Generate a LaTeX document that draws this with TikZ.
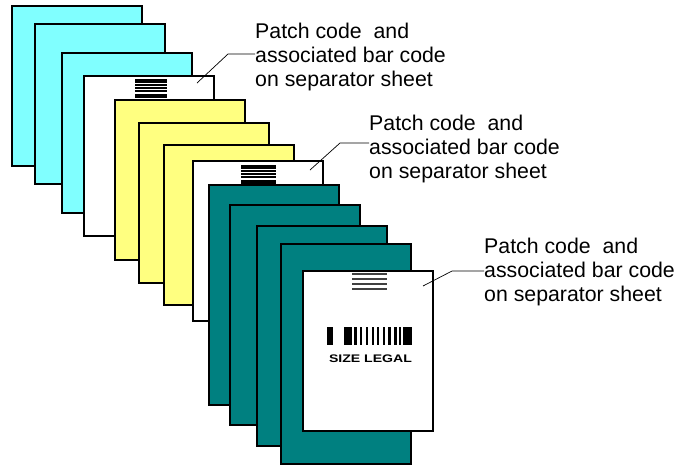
\documentclass[tikz,border=0pt]{standalone}
\usepackage{fontspec}
\setmainfont{Liberation Sans}
\usepackage{graphicx}
\usetikzlibrary{calc}

\definecolor{cyanpage}{HTML}{80FFFF}
\definecolor{yellowpage}{HTML}{FFFF80}
\definecolor{tealpage}{HTML}{008080}

% stripes of a patch code, #1 = top left corner, #2 = width
\newcommand{\patchbars}[2]{%
  \begin{scope}[shift={(#1)}]
    \fill (0,0) rectangle (#2,3.5);
    \fill (0,5.3) rectangle (#2,6.6);
    \fill (0,8.3) rectangle (#2,9.6);
    \fill (0,11.3) rectangle (#2,12.6);
    \fill (0,14.5) rectangle (#2,19);
  \end{scope}}

\begin{document}
\begin{tikzpicture}[x=1pt, y=-1pt,
    sheet/.style={draw=black, line width=1.5pt, anchor=north west,
      minimum width=130pt, minimum height=160pt, inner sep=0pt, outer sep=0pt},
    legal/.style={sheet, minimum height=220pt},
    leader/.style={line width=0.7pt},
    note/.style={anchor=base west, align=left, inner sep=0pt,
      font=\fontsize{21.3}{24}\selectfont}]
            \useasboundingbox (0,0) rectangle (676,467);

            % First batch
            \node[sheet, fill=cyanpage] (s1) at (12,6) {};
            \node[sheet, fill=cyanpage] (s2) at (35,24) {};
            \node[sheet, fill=cyanpage] (s3) at (62,53) {};
            % Separator
            \node[sheet, fill=white] (s4) at (84,76) {};
            \coordinate (p4) at ($(s4.north west)+(51,3)$);
            \patchbars{p4}{32}

            % Second batch
            \node[sheet, fill=yellowpage] (s5) at (115,100) {};
            \node[sheet, fill=yellowpage] (s6) at (139,123) {};
            \node[sheet, fill=yellowpage] (s7) at (164,145) {};
            % Separator
            \node[sheet, fill=white] (s8) at (193,161) {};
            \coordinate (p8) at ($(s8.north west)+(48,4)$);
            \patchbars{p8}{35}

            % Third batch, legal size
            \node[legal, fill=tealpage] (s9) at (209,185) {};
            \node[legal, fill=tealpage] (s10) at (230,205) {};
            \node[legal, fill=tealpage] (s11) at (257,226) {};
            \node[legal, fill=tealpage] (s12) at (281,244) {};
            % Separator with bar code
            \node[sheet, fill=white] (s13) at (303,271) {};
            \foreach \y in {273.3,278.3,283.3,288.3}
              \fill[black!75] (352,\y) rectangle ++(35,2);
            \foreach \x/\w in {327/6, 344/7.5, 354/2.5, 360/2, 366/2, 371.5/2,
                               377/2, 383/2, 388/3, 393.5/3, 398.5/2, 403/8.5}
              \fill (\x,327) rectangle ++(\w,18);
            \node[inner sep=0pt, font=\bfseries\fontsize{11}{11}\selectfont] (size)
              at (370.5,359) {\scalebox{1.28}[1]{SIZE LEGAL}};

            % Labels (base is the last line)
            \node[note] (lab1) at (255,86) {Patch code~ and\\associated bar code\\on separator sheet};
            \node[note] (lab2) at (369,178) {Patch code~ and\\associated bar code\\on separator sheet};
            \node[note] (lab3) at (484,301) {Patch code~ and\\associated bar code\\on separator sheet};

            % Leader lines
            \coordinate (tip1) at (197,83);
            \coordinate (bend1) at (228,54);
            \coordinate (tip2) at (310,170);
            \coordinate (bend2) at (340,143);
            \coordinate (tip3) at (423,286);
            \coordinate (bend3) at (452,271);
            \draw[leader] (tip1) -- (bend1) -- (bend1 -| lab1.west);
            \draw[leader] (tip2) -- (bend2) -- (bend2 -| lab2.west);
            \draw[leader] (tip3) -- (bend3) -- (bend3 -| lab3.west);
\end{tikzpicture}
\end{document}
